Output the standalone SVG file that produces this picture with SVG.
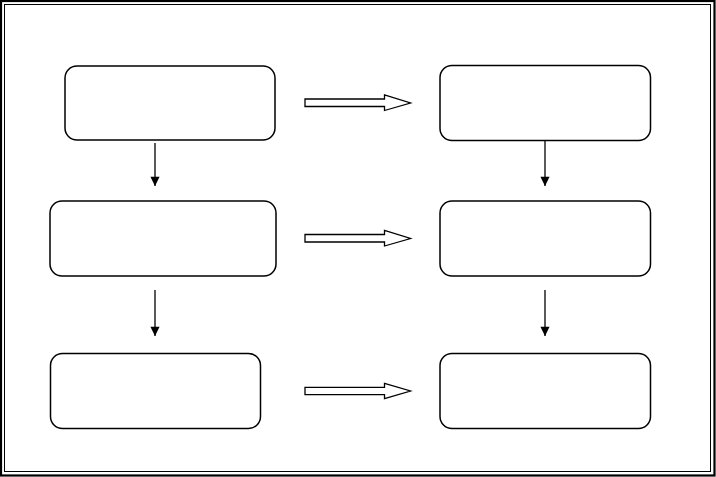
<svg xmlns="http://www.w3.org/2000/svg" width="716" height="477" viewBox="0 0 716 477">
<defs>
<style>
.box{fill:#fff;stroke:#000;stroke-width:1.5}
.blk{fill:#fff;stroke:#000;stroke-width:1.3;stroke-linejoin:miter}
.v{stroke:#000;stroke-width:1.3;fill:none}
</style>
<marker id="ah" viewBox="0 0 10 12" refX="10" refY="5" markerUnits="userSpaceOnUse" markerWidth="10" markerHeight="11" orient="auto">
<path d="M0,0 L10,5 L0,10 Z" fill="#000"/>
</marker>
</defs>
<rect x="0" y="0" width="716" height="477" fill="#fff"/>
<rect id="frame-outer" x="1" y="1" width="713.5" height="474.5" fill="none" stroke="#000" stroke-width="2.2"/>
<rect id="frame-inner" x="4.5" y="4.5" width="706" height="467" fill="none" stroke="#000" stroke-width="1"/>
<g id="n1"><rect class="box" x="65" y="66" width="210" height="74" rx="12"/></g>
<g id="n2"><rect class="box" x="50" y="201" width="226" height="75" rx="12"/></g>
<g id="n3"><rect class="box" x="50.5" y="353.5" width="210" height="75" rx="12"/></g>
<g id="n4"><rect class="box" x="440" y="65.5" width="210.5" height="75" rx="12"/></g>
<g id="n5"><rect class="box" x="440" y="201" width="210.5" height="75" rx="12"/></g>
<g id="n6"><rect class="box" x="440" y="353.5" width="210.5" height="75" rx="12"/></g>
<g id="connectors">
<line class="v" x1="155" y1="143" x2="155" y2="186" marker-end="url(#ah)"/>
<line class="v" x1="155" y1="290" x2="155" y2="336" marker-end="url(#ah)"/>
<line class="v" x1="545" y1="141" x2="545" y2="186" marker-end="url(#ah)"/>
<line class="v" x1="545" y1="290" x2="545" y2="336" marker-end="url(#ah)"/>
<path class="blk" d="M305,99 L384.5,99 L384.5,95 L410.5,103 L384.5,110.5 L384.5,106.5 L305,106.5 Z"/>
<path class="blk" d="M305,234.5 L384.5,234.5 L384.5,230.5 L410.5,238.5 L384.5,246 L384.5,242 L305,242 Z"/>
<path class="blk" d="M305,387.3 L384.5,387.3 L384.5,383.3 L410.5,391 L384.5,398.7 L384.5,394.7 L305,394.7 Z"/>
</g>
</svg>
